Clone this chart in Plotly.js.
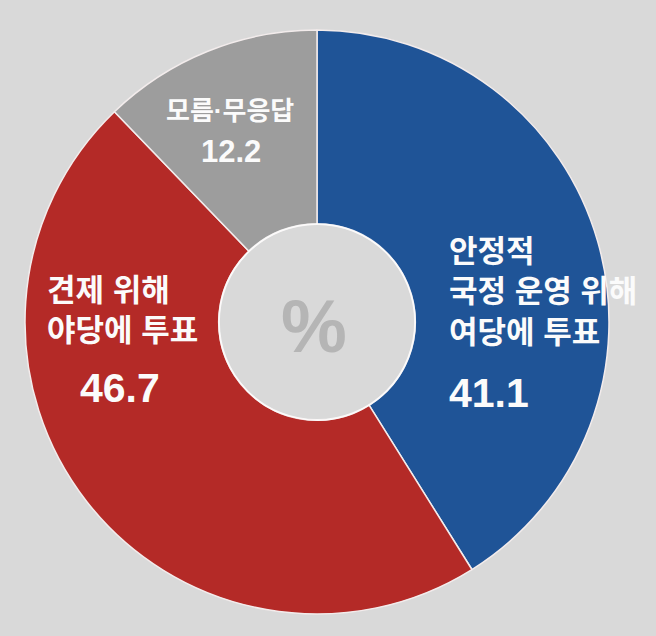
<!DOCTYPE html>
<html>
<head>
<meta charset="utf-8">
<script src="https://cdn.plot.ly/plotly-3.0.1.min.js"></script>
<style>
  html, body { margin: 0; padding: 0; background: #d9d9d9; }
  #chart { width: 656px; height: 636px; }
</style>
</head>
<body>
<div id="chart"></div>
<script>
// Survey shares (%), clockwise from 12 o'clock
const labels = ['안정적 국정 운영 위해 여당에 투표', '견제 위해 야당에 투표', '모름·무응답'];
const values = [41.1, 46.7, 12.2];
const colors = ['#1f5497', '#b42a27', '#9d9d9d'];
const labelLines = [
    ['안정적', '국정 운영 위해', '여당에 투표'],
    ['견제 위해', '야당에 투표'],
    ['모름·무응답'],
];

const W = 656, H = 636;
const CX = 317, CY = 322, R = 292, HOLE = 0.336;

// Latin face first keeps the line boxes compact; Hangul falls back to Noto CJK
const KR = '"Liberation Sans", "Noto Sans CJK KR", sans-serif';
const NUM = '"Liberation Sans", Arial, sans-serif';

// label placement in pixels (y = centre of the text block)
const placement = [
    { x: 447, y: 292, anchor: 'left', nx: 447, ny: 393, nanchor: 'left', nsize: 41, tsize: 31 },
    { x: 45, y: 311, anchor: 'left', nx: 120, ny: 388, nanchor: 'center', nsize: 41, tsize: 31 },
    { x: 230, y: 111, anchor: 'center', nx: 231, ny: 152, nanchor: 'center', nsize: 31, tsize: 26 },
];

const px = x => x / W;
const py = y => 1 - y / H;

const annotations = [];
labelLines.forEach((lines, i) => {
    const p = placement[i];
    annotations.push({
        xref: 'paper', yref: 'paper',
        x: px(p.x), y: py(p.y),
        xanchor: p.anchor, yanchor: 'middle', align: p.anchor,
        text: lines.join('<br>'), showarrow: false,
        font: { family: KR, size: p.tsize, color: '#fbfbfb', weight: 700 },
    });
    annotations.push({
        xref: 'paper', yref: 'paper',
        x: px(p.nx), y: py(p.ny),
        xanchor: p.nanchor, yanchor: 'middle',
        text: values[i].toFixed(1), showarrow: false,
        font: { family: NUM, size: p.nsize, color: '#fbfbfb', weight: 700 },
    });
});

// centre unit mark
annotations.push({
    xref: 'paper', yref: 'paper',
    x: px(314), y: py(326), xanchor: 'center', yanchor: 'middle',
    text: '%', showarrow: false,
    font: { family: NUM, size: 74, color: '#b5b5b5', weight: 700 },
});

const trace = {
    type: 'pie',
    labels: labels,
    values: values,
    sort: false,
    direction: 'clockwise',
    rotation: 0,
    hole: HOLE,
    textinfo: 'none',
    hoverinfo: 'none',
    marker: { colors: colors, line: { color: '#f3ecec', width: 1.5 } },
    domain: {
        x: [px(CX - R), px(CX + R)],
        y: [py(CY + R), py(CY - R)],
    },
    showlegend: false,
};

const hr = R * HOLE;
const layout = {
    width: W, height: H,
    margin: { l: 0, r: 0, t: 0, b: 0 },
    paper_bgcolor: '#d9d9d9',
    plot_bgcolor: '#d9d9d9',
    showlegend: false,
    annotations: annotations,
    shapes: [{
        type: 'circle', xref: 'paper', yref: 'paper', layer: 'above',
        x0: px(CX - hr), x1: px(CX + hr), y0: py(CY + hr), y1: py(CY - hr),
        line: { color: 'rgba(255,255,255,0.75)', width: 2 },
        fillcolor: 'rgba(0,0,0,0)',
    }],
};

Plotly.newPlot('chart', [trace], layout, { staticPlot: true, displayModeBar: false });
</script>
</body>
</html>
